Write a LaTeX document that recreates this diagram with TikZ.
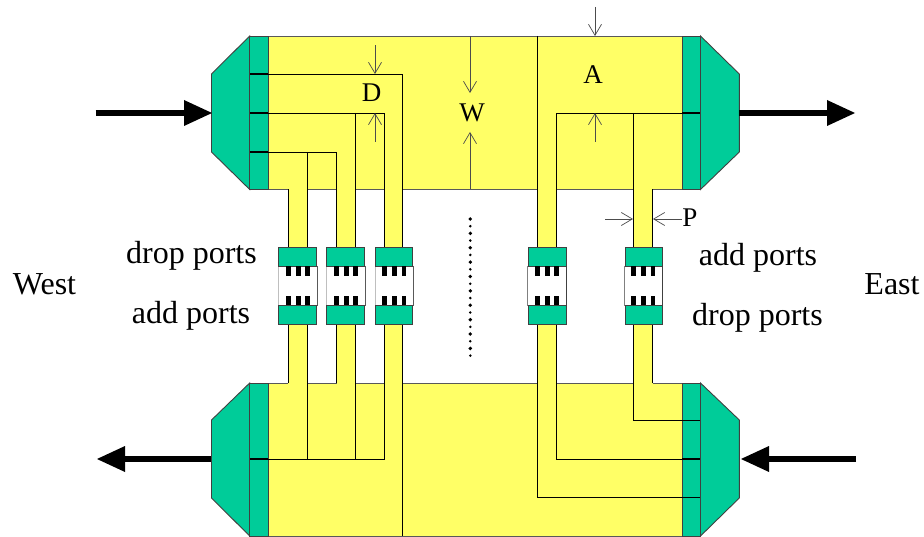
\documentclass[tikz,border=0pt]{standalone}
\usepackage{fontspec}
\setmainfont{Liberation Serif}
\usetikzlibrary{arrows.meta}
\definecolor{grn}{HTML}{00CC99}
\definecolor{yel}{HTML}{FFFF66}
\tikzset{
  x=1pt,y=-1pt,
  ln/.style={draw=black,line width=0.8pt},
  edge/.style={draw=black!65,line width=0.9pt},
  sep/.style={draw=black,line width=1.3pt},
  dim/.style={draw=black!70,line width=0.7pt,-{Straight Barb[length=11pt,width=13pt,line width=0.7pt]}},
  big/.style={draw=black,line width=6pt,-{Triangle[length=28pt,width=26pt,line width=0pt]}},
  lbl/.style={font=\fontsize{32}{32}\selectfont,inner sep=0pt,text=black,anchor=base},
  small/.style={font=\fontsize{27}{27}\selectfont,inner sep=0pt,text=black,anchor=base},
  green/.style={fill=grn,draw=black!75,line width=0.9pt},
}
\begin{document}
\begin{tikzpicture}
\useasboundingbox (0,0) rectangle (924,537);
% yellow waveguide fill
\fill[yel] (268,36) rectangle (682,189.5);
\fill[yel] (268,383) rectangle (682,536);
\foreach \a/\b in {288.3/307.5,336.7/355.7,384.5/402.7,537.3/556.7,633.3/652.7}{
  \fill[yel] (\a,189) rectangle (\b,248);
  \fill[yel] (\a,324) rectangle (\b,384);
}
% outlines
\draw[edge] (268,36) -- (682,36);
\draw[edge] (268,536) -- (682,536);
\draw[edge] (268,189.5) -- (288.3,189.5);
\draw[edge] (307.5,189.5) -- (336.7,189.5);
\draw[edge] (355.7,189.5) -- (384.5,189.5);
\draw[edge] (402.7,189.5) -- (537.3,189.5);
\draw[edge] (556.7,189.5) -- (633.3,189.5);
\draw[edge] (652.7,189.5) -- (682,189.5);
\draw[edge] (268,383) -- (288.3,383);
\draw[edge] (307.5,383) -- (336.7,383);
\draw[edge] (355.7,383) -- (384.5,383);
\draw[edge] (402.7,383) -- (537.3,383);
\draw[edge] (556.7,383) -- (633.3,383);
\draw[edge] (652.7,383) -- (682,383);
% multiplexers
\draw[green] (249.7,36) -- (249.7,189.5) -- (211.5,152) -- (211.5,74) -- cycle;
\draw[green] (249.7,36) rectangle (268,189.5);
\draw[green] (700.5,36) -- (700.5,189.5) -- (739.3,152) -- (739.3,74) -- cycle;
\draw[green] (682.3,36) rectangle (700.5,189.5);
\draw[green] (249.7,383) -- (249.7,536) -- (211.5,498) -- (211.5,420) -- cycle;
\draw[green] (249.7,383) rectangle (268,536);
\draw[green] (700.5,383) -- (700.5,536) -- (739.3,498) -- (739.3,420) -- cycle;
\draw[green] (682.3,383) rectangle (700.5,536);
% top waveguide lines
\draw[ln] (268,74) -- (402.7,74) -- (402.7,248);
\draw[ln] (268,113) -- (384.5,113) -- (384.5,248);
\draw[ln] (355.7,113) -- (355.7,248);
\draw[ln] (268,152) -- (336.7,152) -- (336.7,248);
\draw[ln] (307.5,152) -- (307.5,248);
\draw[ln] (288.3,189.5) -- (288.3,248);
\draw[ln] (537.3,36) -- (537.3,248);
\draw[ln] (682,113) -- (556.7,113) -- (556.7,248);
\draw[ln] (633.3,113) -- (633.3,248);
\draw[ln] (652.7,189.5) -- (652.7,248);
% bottom waveguide lines
\draw[ln] (268,459) -- (384.5,459) -- (384.5,324);
\draw[ln] (355.7,459) -- (355.7,324);
\draw[ln] (336.7,383) -- (336.7,324);
\draw[ln] (307.5,459) -- (307.5,324);
\draw[ln] (288.3,383) -- (288.3,324);
\draw[ln] (402.7,324) -- (402.7,536);
\draw[ln] (537.3,324) -- (537.3,497.5) -- (682,497.5);
\draw[ln] (556.7,324) -- (556.7,459) -- (682,459);
\draw[ln] (633.3,324) -- (633.3,420.5) -- (682,420.5);
\draw[ln] (652.7,324) -- (652.7,383);
% separators in the green bars
\foreach \y in {74,113,152}{\draw[sep] (250,\y) -- (268,\y);}
\draw[sep] (250,459) -- (268,459);
\draw[sep] (682,113) -- (700,113);
\foreach \y in {420.5,459,497.5}{\draw[sep] (682,\y) -- (700,\y);}
% switches
\foreach \l/\o in {278.7/1,326.7/1,375/1,528.7/-1,625/-1}{
  \pgfmathsetmacro{\r}{\l+37.5}
  \pgfmathsetmacro{\tA}{\l+6.8+0.5*\o}\pgfmathsetmacro{\tB}{\l+16.5+0.5*\o}\pgfmathsetmacro{\tC}{\l+26.1+0.5*\o}
  \ifnum\o=1
    \draw[black!25,line width=0.9pt] (\l,266) -- (\l,306);
    \draw[black!65,line width=0.9pt] (\r+1,266) -- (\r+1,306);
  \else
    \draw[black!50,line width=0.9pt] (\l-1,266) -- (\l-1,306);
    \draw[black!75,line width=0.9pt] (\r,266) -- (\r,306);
  \fi
  \draw[green] (\l,247.7) rectangle (\r,266.3);
  \draw[green] (\l,305.7) rectangle (\r,324);
  \foreach \t in {\tA,\tB,\tC}{
    \fill[black] (\t,266.5) rectangle ++(4.8,9.5);
    \fill[black] (\t,296) rectangle ++(4.8,9.5);
  }
}
% big arrows
\coordinate (wi) at (95.5,113);   \coordinate (wm) at (212,113);
\coordinate (ei) at (739,113);  \coordinate (eo) at (855,113);
\coordinate (wo) at (211,459);  \coordinate (wt) at (97,459);
\coordinate (en) at (856,459);  \coordinate (em) at (741,459);
\draw[big] (wi) -- (wm);
\draw[big] (ei) -- (eo);
\draw[big] (wo) -- (wt);
\draw[big] (en) -- (em);
% dimension arrows
\draw[dim] (375,45.5) -- (375,74);
\draw[dim] (375,142) -- (375,113);
\draw[dim] (470,36) -- (470,93);
\draw[dim] (470,189) -- (470,132);
\draw[dim] (595,7) -- (595,36);
\draw[dim] (595,142) -- (595,113);
\draw[dim] (605,219) -- (633,219);
\draw[dim] (682,219) -- (653,219);
% dots
\foreach \i in {0,...,19}{
  \pgfmathsetmacro{\yy}{219+7.19*\i}
  \pgfmathsetmacro{\rr}{ifthenelse(mod(\i,2)==0,1.9,1.4)}
  \fill[black] (470.3,\yy) circle[radius=\rr];
}
% labels
\node[small] (D) at (371.7,102) {D};
\node[small] (W) at (472,121.7) {W};
\node[small] (A) at (593,84) {A};
\node[small] (P) at (690,226.5) {P};
\node[lbl] (dpw) at (191.5,264) {drop ports};
\node[lbl] (apw) at (191,323.7) {add ports};
\node[lbl] (apE) at (758,266) {add ports};
\node[lbl] (dpE) at (757.5,326) {drop ports};
\node[lbl] (west) at (44.5,295) {West};
\node[lbl] (east) at (892,295) {East};
\end{tikzpicture}
\end{document}
